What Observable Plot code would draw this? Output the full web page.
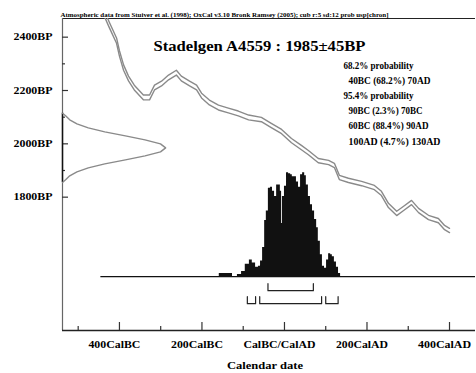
<!DOCTYPE html>
<html><head><meta charset="utf-8">
<script src="https://cdn.jsdelivr.net/npm/d3@7"></script>
<script src="https://cdn.jsdelivr.net/npm/@observablehq/plot@0.6"></script>
<style>
html,body{margin:0;padding:0;background:#fff;}
#chart{width:476px;height:373px;overflow:hidden;}
</style></head><body><div id="chart"></div>
<script>
const headerText = "Atmospheric data from Stuiver et al. (1998); OxCal v3.10 Bronk Ramsey (2005); cub r:5 sd:12 prob usp[chron]";
const titleText = "Stadelgen A4559 : 1985±45BP";
const legendHeads = ["68.2% probability", "95.4% probability"];
const legendRanges68 = ["40BC (68.2%) 70AD"];
const legendRanges95 = ["90BC (2.3%) 70BC", "60BC (88.4%) 90AD", "100AD (4.7%) 130AD"];
const xTicksMajor = [-400, -200, 0, 200, 400];
const xTickLabels = ["400CalBC", "200CalBC", "CalBC/CalAD", "200CalAD", "400CalAD"];
const xTicksMinor = [-500, -300, -100, 100, 300];
const yTicksMajor = [2400, 2200, 2000, 1800];
const yTickLabels = ["2400BP", "2200BP", "2000BP", "1800BP"];
const yTicksMinor = [2300, 2100, 1900];
const xTitle = "Calendar date";

// calibration curve (mean and 1 sigma, BP)
const curveYear = [-440,-424,-407,-400,-390,-378,-364,-342,-327,-315,-298,-281,-262,-250,-230,-213,-201,-182,-160,-136,-112,-87,-56,-32,-7,17,41,58,82,107,121,133,155,187,218,235,252,272,288,308,325,349,373,388,400];
const curveBP   = [2500,2444,2387,2339,2286,2245,2211,2174,2174,2211,2226,2249,2267,2245,2226,2211,2181,2155,2136,2125,2114,2099,2091,2069,2046,2012,1986,1967,1937,1930,1919,1874,1863,1851,1836,1814,1769,1739,1757,1780,1750,1724,1712,1686,1675];
const curveSigma= [10,10,10,10,10,9,9,9,9,9,9,9,9,9,9,9,9,9,9,9,9,9,8,8,8,8,8,8,8,8,8,8,8,8,8,8,8,8,8,8,8,8,8,8,8];

// radiocarbon measurement 1985±45BP (relative density)
const gaussBP   = [1855,1865,1880,1895,1910,1925,1940,1955,1970,1985,2000,2015,2030,2045,2060,2075,2090,2105,2115];
const gaussProb = [0,0.03,0.07,0.14,0.25,0.41,0.61,0.80,0.95,1,0.95,0.80,0.61,0.41,0.25,0.14,0.07,0.03,0];

// calibrated distribution (relative probability)
const postYear = [-165,-158,-133,-126,-120,-114,-104,-95,-85,-78,-70,-63,-58,-53,-48,-44,-39,-34,-29,-24,-19,-15,-10,-7,-5,0,5,10,15,19,24,29,34,39,44,49,53,58,63,68,73,78,82,87,92,97,102,107,112,116,121,126,131,136];
const postProb = [0,0.03,0.03,0,0,0.02,0.05,0.12,0.16,0.13,0.09,0.10,0.15,0.28,0.54,0.63,0.85,0.86,0.82,0.77,0.88,0.88,0.82,0.51,0.77,0.87,1.0,0.99,0.98,0.96,0.96,0.91,0.86,0.98,1.0,0.97,0.88,0.77,0.69,0.63,0.55,0.47,0.34,0.21,0.10,0.08,0.16,0.22,0.21,0.19,0.14,0.09,0.03,0];

const range68 = [[-40, 70]];
const range95 = [[-90, -70], [-60, 90], [100, 130]];

// layout constants
const xDom = [-538, 463], yDom = [1300, 2470];
const histBase = 1502, histHeight = 390;
const gaussWidth = 250;
const BPperPx = (yDom[1]-yDom[0]) / 312, yrPerPx = (xDom[1]-xDom[0]) / 413;
const font = "Liberation Serif";

const curveData = curveYear.map((x, i) => ({x, m: curveBP[i], s: curveSigma[i]}));
const gaussData = gaussBP.map((y, i) => ({y, p: gaussProb[i]}));
const postData = postYear.map((x, i) => ({x, p: postProb[i]}));
function brackets(ranges, top, bot) {
  return ranges.flatMap((r, k) => [
    {x: r[0], y: top, k}, {x: r[0], y: bot, k}, {x: r[1], y: bot, k}, {x: r[1], y: top, k}
  ]);
}
const b68 = brackets(range68, histBase - 7*BPperPx, histBase - 14*BPperPx);
const b95 = brackets(range95, histBase - 20*BPperPx, histBase - 27*BPperPx);

const legendMarks = [];
const legendAll = [[legendHeads[0], 0], [legendRanges68[0], 1], [legendHeads[1], 0], ...legendRanges95.map(t => [t, 1])];
legendAll.forEach(([t, ind], i) => {
  legendMarks.push(Plot.text([t], {frameAnchor: "top-left", dx: 281 + ind*5, dy: 43 + i*15.2, textAnchor: "start", fontSize: 10, fontWeight: "bold"}));
});

const chart = Plot.plot({
  width: 476, height: 373,
  marginLeft: 62, marginRight: 1, marginTop: 18, marginBottom: 43,
  x: {domain: xDom, axis: null},
  y: {domain: yDom, axis: null},
  style: {fontFamily: font, background: "#fff"},
  marks: [
    // frame lines
    Plot.ruleY([yDom[1]], {x1: xDom[0], x2: xDom[1], stroke: "#222", strokeWidth: 1}),
    Plot.ruleX([xDom[0]], {y1: yDom[0], y2: yDom[1], stroke: "#666", strokeWidth: 1.2}),
    Plot.ruleY([yDom[0]], {x1: xDom[0], x2: xDom[1], stroke: "#222", strokeWidth: 1.5}),
    // ticks
    Plot.ruleX(xTicksMajor, {y1: yDom[0], y2: yDom[0] + 8*BPperPx, stroke: "#333", strokeWidth: 1.2}),
    Plot.ruleX(xTicksMinor, {y1: yDom[0], y2: yDom[0] + 4*BPperPx, stroke: "#333", strokeWidth: 1.2}),
    Plot.ruleY(yTicksMajor, {x1: xDom[0], x2: xDom[0] + 6*yrPerPx, stroke: "#333", strokeWidth: 1.2}),
    Plot.ruleY(yTicksMinor, {x1: xDom[0], x2: xDom[0] + 3*yrPerPx, stroke: "#333", strokeWidth: 1.2}),
    Plot.text(xTicksMajor, {x: d => d, text: (d, i) => xTickLabels[i], frameAnchor: "bottom", dy: 17, dx: -5, fontSize: 10, fontWeight: "bold"}),
    Plot.text(yTicksMajor, {y: d => d, text: (d, i) => yTickLabels[i], frameAnchor: "left", dx: -10, textAnchor: "end", fontSize: 10, fontWeight: "bold"}),
    Plot.text([xTitle], {frameAnchor: "bottom", dx: -4, dy: 38, fontSize: 10, fontWeight: "bold"}),
    // calibration curve
    Plot.line(curveData, {x: "x", y: d => d.m + d.s, stroke: "#8a8a8a", strokeWidth: 1.4, clip: true}),
    Plot.line(curveData, {x: "x", y: d => d.m - d.s, stroke: "#8a8a8a", strokeWidth: 1.4, clip: true}),
    // measurement distribution
    Plot.ruleX([xDom[0]], {y1: gaussBP[0], y2: gaussBP[gaussBP.length-1], stroke: "#111", strokeWidth: 1.5}),
    Plot.line(gaussData, {x: d => xDom[0] + d.p*gaussWidth, y: "y", stroke: "#8a8a8a", strokeWidth: 1.4}),
    // calibrated distribution
    Plot.areaY(postData, {x: "x", y1: histBase, y2: d => histBase + d.p*histHeight, fill: "#111", curve: "step-after"}),
    Plot.ruleY([histBase], {x1: -445, x2: xDom[1], stroke: "#111", strokeWidth: 1.2}),
    Plot.line(b68, {x: "x", y: "y", z: "k", stroke: "#222", strokeWidth: 1.2}),
    Plot.line(b95, {x: "x", y: "y", z: "k", stroke: "#222", strokeWidth: 1.2}),
    // texts
    Plot.text([headerText], {frameAnchor: "top-left", dx: -2, dy: -6, textAnchor: "start", fontSize: 7, fontWeight: "bold"}),
    Plot.text([titleText], {frameAnchor: "top-left", dx: 91, dy: 23, textAnchor: "start", fontSize: 14, fontWeight: "bold"}),
    ...legendMarks
  ]
});
document.getElementById("chart").appendChild(chart);

// fit text widths to the reference
const widths = new Map([
  [headerText, 328], [titleText, 212],
  [legendHeads[0], 70], [legendRanges68[0], 82], [legendHeads[1], 70],
  [legendRanges95[0], 74], [legendRanges95[1], 80], [legendRanges95[2], 92],
  ["400CalBC", 52], ["200CalBC", 52], ["CalBC/CalAD", 72], ["200CalAD", 52], ["400CalAD", 53],
  ["2400BP", 39], ["2200BP", 39], ["2000BP", 39], ["1800BP", 39], [xTitle, 76]
]);
chart.querySelectorAll("text").forEach(t => {
  const w = widths.get(t.textContent);
  if (w) { t.setAttribute("textLength", w); t.setAttribute("lengthAdjust", "spacingAndGlyphs"); }
});
</script></body></html>
